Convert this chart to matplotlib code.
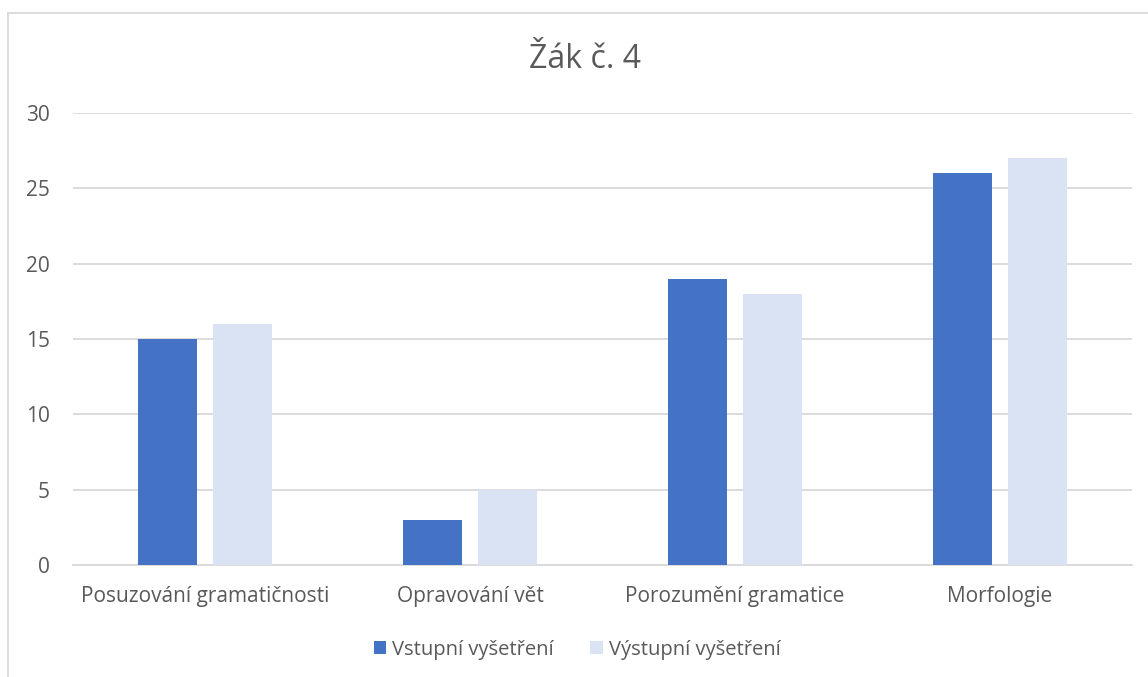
import matplotlib
matplotlib.use("Agg")
import matplotlib.pyplot as plt
from matplotlib.lines import Line2D
from matplotlib.patches import Patch
import numpy as np

categories = ["Posuzování gramatičnosti", "Opravování vět", "Porozumění gramatice", "Morfologie"]
series_names = ["Vstupní vyšetření", "Výstupní vyšetření"]
vstupni = [15, 3, 19, 26]
vystupni = [16, 5, 18, 27]
yticks = [0, 5, 10, 15, 20, 25, 30]

colors = ["#4472C4", "#DAE3F3"]
text_color = "#595959"
grid_color = "#D9D9D9"

plt.rcParams['font.family'] = ['Open Sans', 'DejaVu Sans']

W, H = 1148, 677
fig = plt.figure(figsize=(W / 100, H / 100), dpi=100)
ax = fig.add_axes([73 / W, 1 - 565 / H, (1132 - 73) / W, (565 - 113) / H])

x = np.arange(len(categories))
bw = 0.223
off = 0.142
ax.bar(x - off, vstupni, width=bw, color=colors[0], zorder=3)
ax.bar(x + off, vystupni, width=bw, color=colors[1], zorder=3)

ax.set_xlim(-0.5, len(categories) - 0.5)
ax.set_ylim(0, 30)
ax.set_yticks(yticks)
ax.yaxis.grid(True, color=grid_color, linewidth=1.3, zorder=0)
ax.set_axisbelow(True)
for s in ["left", "right", "top"]:
    ax.spines[s].set_visible(False)
ax.spines["bottom"].set_color(grid_color)
ax.spines["bottom"].set_linewidth(1.3)
ax.tick_params(axis="both", length=0, colors=text_color, labelsize=15)
ax.tick_params(axis="y", pad=16.5)
ax.tick_params(axis="x", pad=15)
ax.set_xticks(x)
ax.set_xticklabels(categories)

fig.text(585 / W, 1 - 59 / H, "Žák č. 4", ha="center", va="center", fontsize=23, color=text_color)

handles = [Patch(facecolor=colors[0]), Patch(facecolor=colors[1])]
fig.legend(handles, series_names, loc="center", bbox_to_anchor=(577 / W, 1 - 650 / H), ncol=2,
           frameon=False, fontsize=14.5, labelcolor=text_color, handlelength=0.62, handleheight=0.62,
           handletextpad=0.3, columnspacing=1.8)

# chart outer border (cropped on right/bottom)
fig.add_artist(Line2D([8 / W, 8 / W], [0, 1 - 13 / H], color=grid_color, linewidth=1.3, transform=fig.transFigure))
fig.add_artist(Line2D([8 / W, 1], [1 - 13 / H, 1 - 13 / H], color=grid_color, linewidth=1.3, transform=fig.transFigure))

fig.savefig("out.png", dpi=100, facecolor="white")
